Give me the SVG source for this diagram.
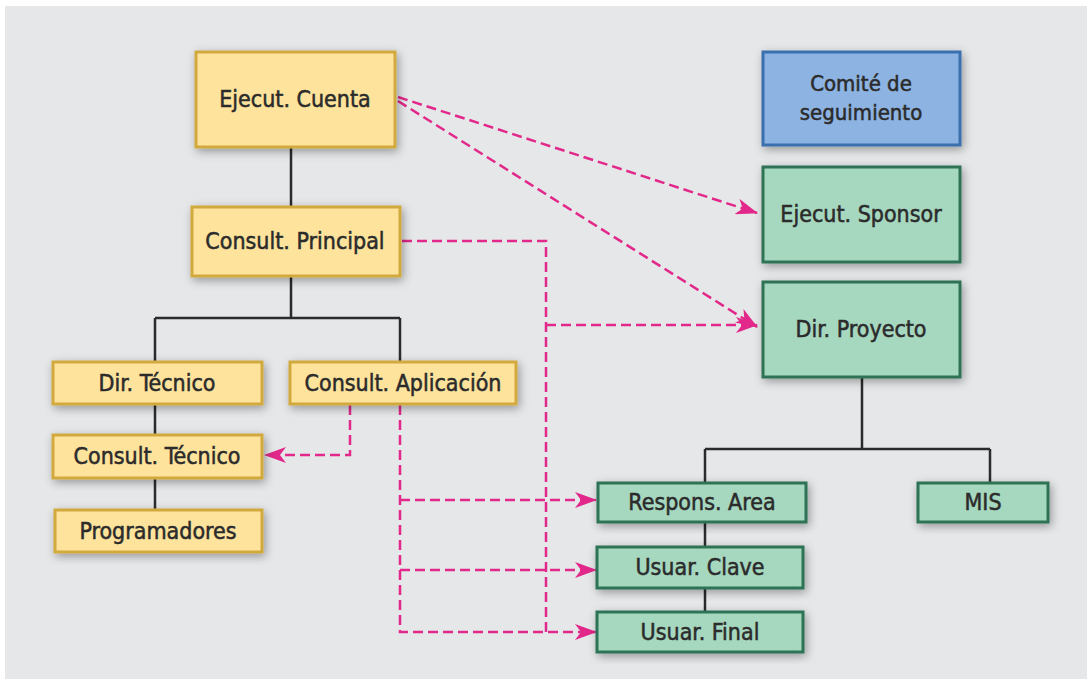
<svg xmlns="http://www.w3.org/2000/svg" width="1087" height="679" viewBox="0 0 1087 679">
<defs>
<filter id="sh" x="-20%" y="-30%" width="140%" height="160%">
<feDropShadow dx="2" dy="3" stdDeviation="5" flood-color="#000" flood-opacity="0.35"/>
</filter>
<marker id="ah" viewBox="0 0 22 16" refX="21" refY="8" markerWidth="22" markerHeight="16" markerUnits="userSpaceOnUse" orient="auto">
<path d="M0,0 L22,8 L0,16 L6,8 Z" fill="#e2288a"/>
</marker>
</defs>
<style>
.y{fill:#fde39c;stroke:#d2a93e;stroke-width:3}
.g{fill:#a6d7bf;stroke:#2f7355;stroke-width:3}
.b{fill:#8db3e2;stroke:#3b6fae;stroke-width:3}
text{font-family:"DejaVu Sans Condensed","DejaVu Sans",sans-serif;font-stretch:condensed;fill:#2b2b2b;stroke:#2b2b2b;stroke-width:0.5;text-anchor:middle;dominant-baseline:central}
.t{font-size:23px}
.s{font-size:22px}
.k{stroke:#2b2b2b;stroke-width:2.5;fill:none}
.d{stroke:#e2288a;stroke-width:2.5;fill:none;stroke-dasharray:10,5}
</style>
<rect x="0" y="0" width="1087" height="679" fill="#ffffff"/>
<rect x="5" y="6" width="1082" height="673" fill="#e5e7e8"/>

<g id="connectors">
<path class="k" d="M291,147 V207 M291,276 V318 M155,318 H400 M155,318 V362 M400,318 V362 M155,404 V435 M155,478 V510"/>
<path class="k" d="M862,377 V449 M705,449 H990 M705,449 V483 M990,449 V483 M705,522 V547 M705,588 V612"/>
<path class="d" d="M398,97 L757,213" marker-end="url(#ah)"/>
<path class="d" d="M398,101 L757,327" marker-end="url(#ah)"/>
<path class="d" d="M402,241 H546 V632"/>
<path class="d" d="M546,325 H757" marker-end="url(#ah)"/>
<path class="d" d="M350,405 V455 H265" marker-end="url(#ah)"/>
<path class="d" d="M400,405 V632 H596" marker-end="url(#ah)"/>
<path class="d" d="M400,500 H596" marker-end="url(#ah)"/>
<path class="d" d="M400,570 H596" marker-end="url(#ah)"/>
</g>

<g id="n-ejecut-cuenta"><rect class="y" x="196" y="52" width="199" height="95" filter="url(#sh)"/><text class="t" x="295" y="99">Ejecut. Cuenta</text></g>
<g id="n-consult-principal"><rect class="y" x="192" y="207" width="208" height="69" filter="url(#sh)"/><text class="t" x="295" y="241">Consult. Principal</text></g>
<g id="n-dir-tecnico"><rect class="y" x="53" y="362" width="209" height="42" filter="url(#sh)"/><text class="t" x="157" y="383">Dir. Técnico</text></g>
<g id="n-consult-aplicacion"><rect class="y" x="290" y="362" width="226" height="42" filter="url(#sh)"/><text class="t" x="403" y="383">Consult. Aplicación</text></g>
<g id="n-consult-tecnico"><rect class="y" x="53" y="435" width="209" height="43" filter="url(#sh)"/><text class="t" x="157" y="456">Consult. Técnico</text></g>
<g id="n-programadores"><rect class="y" x="55" y="510" width="207" height="42" filter="url(#sh)"/><text class="t" x="158" y="531">Programadores</text></g>

<g id="n-comite"><rect class="b" x="763" y="52" width="197" height="93" filter="url(#sh)"/><text class="s" x="861" y="83">Comité de</text><text class="s" x="861" y="112">seguimiento</text></g>
<g id="n-ejecut-sponsor"><rect class="g" x="763" y="167" width="197" height="95" filter="url(#sh)"/><text class="t" x="861" y="214">Ejecut. Sponsor</text></g>
<g id="n-dir-proyecto"><rect class="g" x="763" y="282" width="197" height="95" filter="url(#sh)"/><text class="t" x="861" y="329">Dir. Proyecto</text></g>
<g id="n-respons-area"><rect class="g" x="598" y="483" width="208" height="39" filter="url(#sh)"/><text class="t" x="702" y="502">Respons. Area</text></g>
<g id="n-mis"><rect class="g" x="918" y="483" width="130" height="39" filter="url(#sh)"/><text class="t" x="983" y="502">MIS</text></g>
<g id="n-usuar-clave"><rect class="g" x="597" y="547" width="206" height="41" filter="url(#sh)"/><text class="t" x="700" y="567">Usuar. Clave</text></g>
<g id="n-usuar-final"><rect class="g" x="597" y="612" width="206" height="40" filter="url(#sh)"/><text class="t" x="700" y="632">Usuar. Final</text></g>
</svg>
